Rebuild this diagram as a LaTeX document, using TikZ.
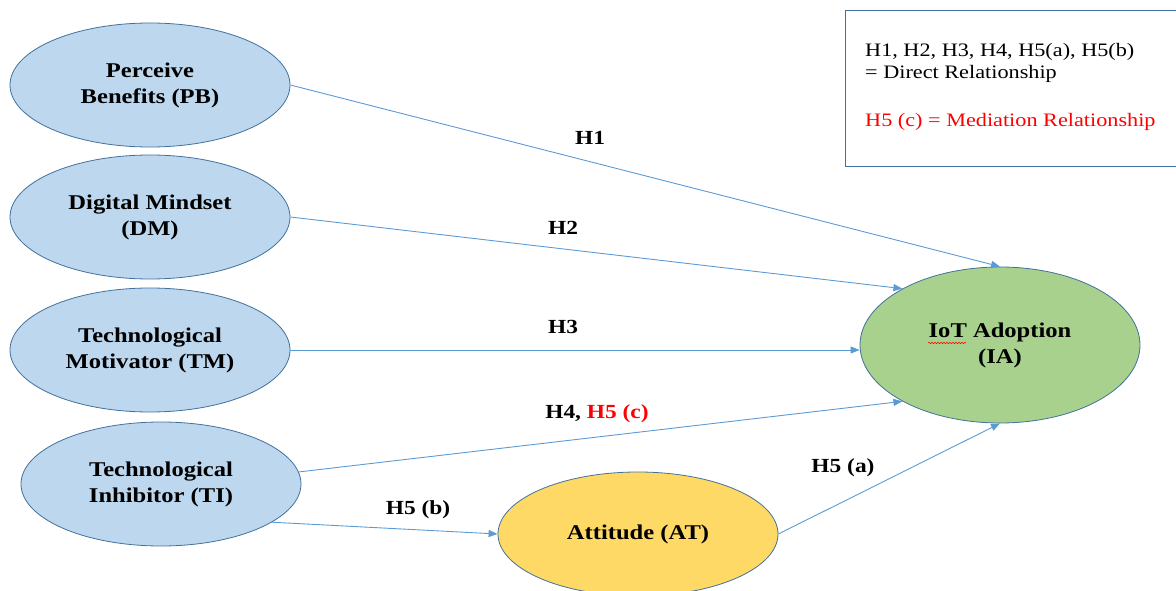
\documentclass[tikz,border=0pt]{standalone}
\usepackage{fontspec}
\setmainfont{Liberation Serif}[FakeStretch=1.17]
\usetikzlibrary{arrows.meta,shapes.geometric,decorations.pathmorphing}
\definecolor{varblue}{RGB}{189,215,238}
\definecolor{rimblue}{RGB}{65,113,156}
\definecolor{linkblue}{RGB}{91,155,213}
\definecolor{iagreen}{RGB}{169,209,142}
\definecolor{atyellow}{RGB}{255,217,102}
\begin{document}
\begin{tikzpicture}[x=1pt,y=-1pt,
  construct/.style={ellipse,draw=rimblue,fill=varblue,line width=.8pt,minimum width=280pt,
    minimum height=124pt,inner sep=0pt,align=center,font=\fontsize{21}{26}\selectfont\bfseries},
  hyp/.style={draw=linkblue,line width=.9pt,-{Triangle[length=9pt,width=7pt]}},
  hyplabel/.style={font=\fontsize{20}{24}\selectfont\bfseries},
  keytext/.style={anchor=base west,inner sep=0pt,font=\fontsize{19}{22}\selectfont}]
\useasboundingbox (0,0) rectangle (1176,591);
% constructs
\node[construct] (pb) at (150,85) {Perceive\\Benefits (PB)};
\node[construct] (dm) at (150,217) {Digital Mindset\\(DM)};
\node[construct] (tm) at (150,350) {Technological\\Motivator (TM)};
\node[construct] (ti) at (161,484) {Technological\\Inhibitor (TI)};
\node[construct,fill=atyellow] (at) at (638,534) {Attitude (AT)};
\node[construct,fill=iagreen,minimum height=156pt] (ia) at (1000,345) {IoT Adoption\\(IA)};
\draw[red,line width=.6pt,decorate,decoration={snake,amplitude=.7pt,segment length=3pt}]
  (928,343)--(966,343);
% hypotheses
\draw[hyp] (pb.east) -- (ia.north);
\draw[hyp] (dm.east) -- (ia.150);
\draw[hyp] (tm.east) -- (tm.east -| ia.west);
\draw[hyp] (ti.5) -- (ia.210);
\draw[hyp] (ti.-19) -- (at.west);
\draw[hyp] (at.east) -- (ia.south);
\node[hyplabel] (h1) at (590,138) {H1};
\node[hyplabel] (h2) at (563,228) {H2};
\node[hyplabel] (h3) at (563,327) {H3};
\node[hyplabel] (h4) at (597,414) {H4, \textcolor{red}{H5 (c)}};
\node[hyplabel] (h5b) at (418,510) {H5 (b)};
\node[hyplabel] (h5a) at (843,468) {H5 (a)};
% key
\node[draw=rimblue,line width=.8pt,anchor=north west,minimum width=334pt,minimum height=156pt,
  inner sep=0pt] (key) at (845,10) {};
\node[keytext] (keya) at (865,57) {H1, H2, H3, H4, H5(a), H5(b)};
\node[keytext] (keyb) at (865,79) {= Direct Relationship};
\node[keytext,text=red] (keyc) at (865,127) {H5 (c) = Mediation Relationship};
\end{tikzpicture}
\end{document}
